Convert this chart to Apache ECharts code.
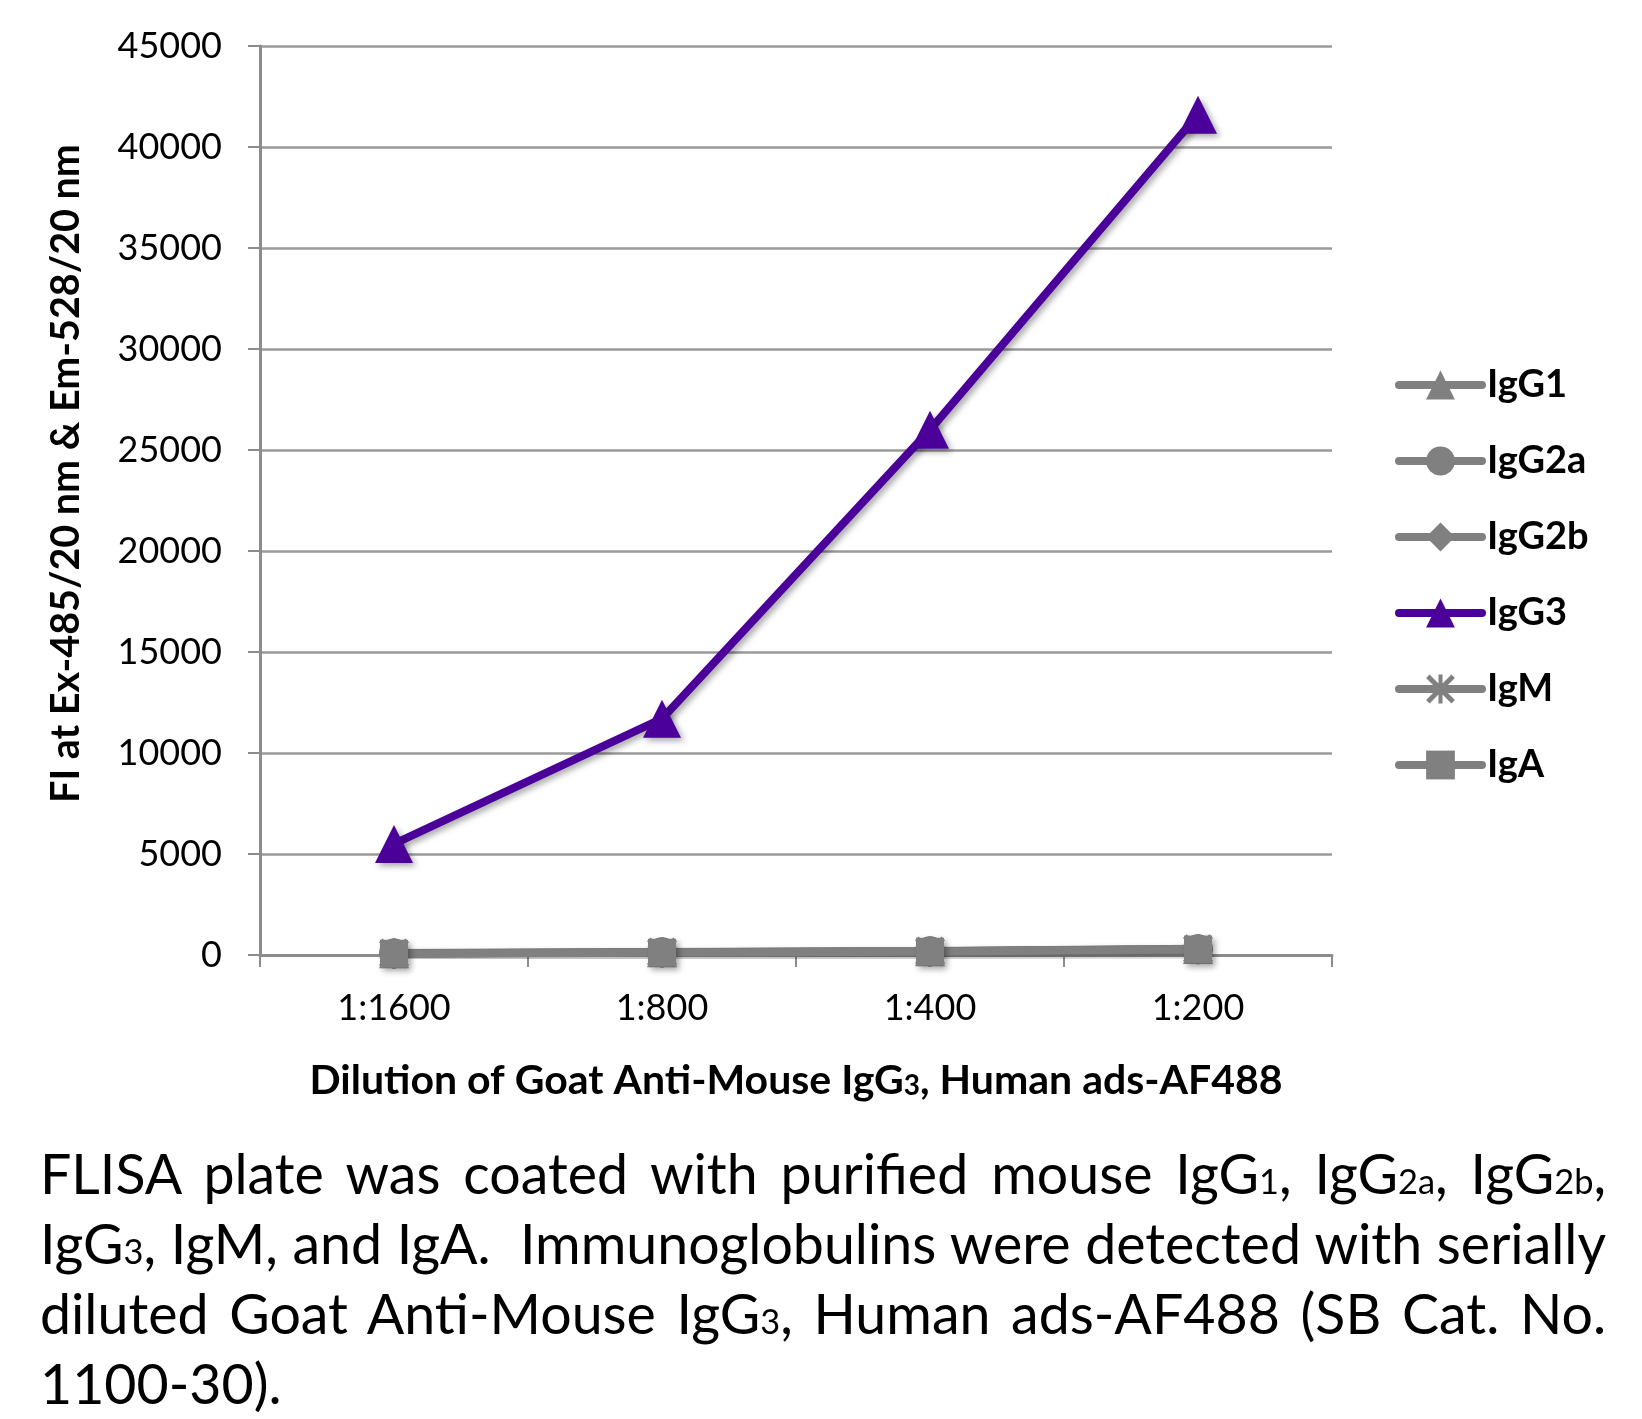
<!DOCTYPE html>
<html>
<head>
<meta charset="utf-8">
<script src="https://cdn.jsdelivr.net/npm/echarts@6/dist/echarts.min.js"></script>
<style>
  html, body { margin: 0; padding: 0; background: #fff; }
  #chart { position: absolute; left: 0; top: 0; width: 1642px; height: 1419px; }
  #caption { position: absolute; left: 40px; top: 1138px; width: 1566px;
    font-family: Lato, "Open Sans", sans-serif; font-size: 50px; color: #000; }
  #caption .l { height: 70px; line-height: 70px; white-space: nowrap; overflow: visible; }
  #caption.just .l { text-align: justify; text-align-last: justify; }
  #caption.just .l.last { text-align: left; text-align-last: left; }
  #caption .s { font-size: 0.62em; line-height: 0; }
</style>
</head>
<body>
<div id="chart"></div>
<div id="caption">
  <div class="l"><span class="w">FLISA plate was coated with purified mouse IgG<span class="s">1</span>, IgG<span class="s">2a</span>, IgG<span class="s">2b</span>,</span></div>
  <div class="l"><span class="w">IgG<span class="s">3</span>, IgM, and IgA.&nbsp; Immunoglobulins were detected with serially</span></div>
  <div class="l"><span class="w">diluted Goat Anti-Mouse IgG<span class="s">3</span>, Human ads-AF488 (SB Cat. No.</span></div>
  <div class="l last"><span class="w">1100-30).</span></div>
</div>
<script>
// ---- data ----
const dilutions = ['1:1600', '1:800', '1:400', '1:200'];
const seriesNames = ['IgG1', 'IgG2a', 'IgG2b', 'IgG3', 'IgM', 'IgA'];
const igG1 = [90, 140, 190, 300];
const igG2a = [80, 130, 180, 290];
const igG2b = [100, 150, 200, 310];
const igG3 = [5500, 11700, 26000, 41600];
const igM = [70, 120, 170, 280];
const igA = [60, 110, 160, 270];
const yTicks = { min: 0, max: 45000, interval: 5000 };

// fit caption font so the widest line (unjustified) fills the width, then justify
(function () {
  const cap = document.getElementById('caption');
  let maxW = 0;
  cap.querySelectorAll('.w').forEach(function (s) { maxW = Math.max(maxW, s.getBoundingClientRect().width); });
  if (maxW > 0) cap.style.fontSize = (50 * 1562 / maxW) + 'px';
  cap.classList.add('just');
})();

const chart = echarts.init(document.getElementById('chart'));
const gray = '#808080';
const purple = '#4a0099';
const shadow = { shadowColor: 'rgba(0,0,0,0.35)', shadowBlur: 6, shadowOffsetX: 3, shadowOffsetY: 3 };
const noShadow = {};
const asterisk = 'path://M0,1.2L1.2,0L10,8.8L8.8,10Z M8.8,0L10,1.2L1.2,10L0,8.8Z M4.3,0L5.7,0L5.7,10L4.3,10Z';

function mk(name, data, color, symbol, size, sh) {
  return {
    name: name, type: 'line', data: data,
    symbol: symbol, symbolSize: size,
    lineStyle: Object.assign({ color: color, width: 8 }, sh),
    itemStyle: Object.assign({ color: color }, sh),
    emphasis: { disabled: true },
    animation: false
  };
}

const font = 'Lato, "Open Sans", sans-serif';

chart.setOption({
  animation: false,
  grid: { left: 260, right: 310, top: 46, bottom: 464, containLabel: false },
  legend: {
    orient: 'vertical', left: 1395, top: 365, padding: 0,
    itemWidth: 83, itemHeight: 36, itemGap: 36,
    data: seriesNames,
    lineStyle: { width: 8, cap: 'round' },
    textStyle: { fontFamily: font, fontWeight: 'bold', fontSize: 38, color: '#000', lineHeight: 40 }
  },
  xAxis: {
    type: 'category', data: dilutions, boundaryGap: true,
    axisLine: { lineStyle: { color: '#8c8c8c', width: 3 } },
    axisTick: { show: true, length: 12, lineStyle: { color: '#8c8c8c', width: 2 } },
    axisLabel: { fontFamily: font, fontSize: 36, color: '#000', margin: 35 },
    name: 'Dilution of Goat Anti-Mouse IgG{s|3}, Human ads-AF488',
    nameLocation: 'middle', nameGap: 105,
    nameTextStyle: {
      fontFamily: font, fontWeight: 'bold', fontSize: 41, color: '#000',
      rich: { s: { fontFamily: font, fontWeight: 'bold', fontSize: 28, color: '#000', padding: [10, 0, 0, 0] } }
    }
  },
  yAxis: {
    type: 'value', min: yTicks.min, max: yTicks.max, interval: yTicks.interval,
    axisLine: { show: true, lineStyle: { color: '#8c8c8c', width: 3 } },
    axisTick: { show: true, length: 12, lineStyle: { color: '#8c8c8c', width: 2 } },
    splitLine: { lineStyle: { color: '#9a9a9a', width: 2.5 } },
    axisLabel: { fontFamily: font, fontSize: 36, color: '#000', margin: 38, formatter: function (v) { return String(v); } },
    name: 'FI at Ex-485/20 nm & Em-528/20 nm',
    nameLocation: 'middle', nameRotate: 90, nameGap: 174,
    nameTextStyle: { fontFamily: font, fontWeight: 'bold', fontSize: 39.5, color: '#000', padding: [0, 0, 0, 54] }
  },
  series: [
    mk('IgG1', igG1, gray, 'triangle', 30, noShadow),
    mk('IgG2a', igG2a, gray, 'circle', 30, noShadow),
    mk('IgG2b', igG2b, gray, 'diamond', 30, noShadow),
    mk('IgM', igM, gray, asterisk, 30, noShadow),
    mk('IgA', igA, gray, 'rect', 28, shadow),
    mk('IgG3', igG3, purple, 'triangle', 38, shadow)
  ]
});
</script>
</body>
</html>
